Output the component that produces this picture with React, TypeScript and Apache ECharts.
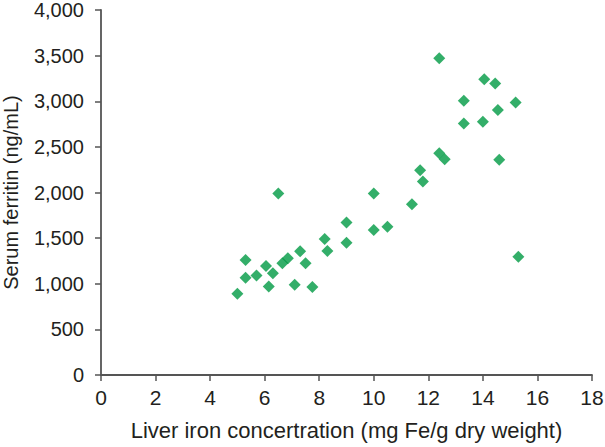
import React, { useEffect, useRef } from "react";
import * as echarts from "echarts";

const xValues = [5.0, 5.3, 5.3, 5.7, 6.05, 6.15, 6.3, 6.5, 6.65, 6.85, 7.1, 7.3, 7.5, 7.75, 8.2, 8.3, 9.0, 9.0, 10.0, 10.0, 10.5, 11.4, 11.7, 11.8, 12.4, 12.4, 12.6, 13.3, 13.3, 14.0, 14.05, 14.45, 14.55, 14.6, 15.2, 15.3];
const yValues = [890, 1260, 1065, 1090, 1195, 970, 1115, 1990, 1225, 1280, 990, 1355, 1225, 965, 1490, 1360, 1670, 1450, 1990, 1590, 1625, 1870, 2245, 2120, 3470, 2430, 2365, 3005, 2755, 2775, 3240, 3195, 2905, 2360, 2985, 1295];
const xTicks = [0, 2, 4, 6, 8, 10, 12, 14, 16, 18];
const yTicks = [0, 500, 1000, 1500, 2000, 2500, 3000, 3500, 4000];

const FONT = "'Liberation Sans', Arial, sans-serif";
const TEXT = "#231f20";
const AXIS = "#555555";

export default function App() {
  const ref = useRef<HTMLDivElement>(null);
  useEffect(() => {
    document.body.style.margin = "0";
    if (!ref.current) return;
    const chart = echarts.init(ref.current, undefined, { renderer: "svg" });
    const data = xValues.map((x, i) => [x, yValues[i]]);
    chart.setOption({
      animation: false,
      backgroundColor: "#ffffff",
      grid: {
        left: 101,
        top: 10,
        right: 13,
        bottom: 72,
        containLabel: false,
        outerBoundsMode: "none",
      },
      xAxis: {
        type: "value",
        min: xTicks[0],
        max: xTicks[xTicks.length - 1],
        interval: 2,
        name: "Liver iron concertration (mg Fe/g dry weight)",
        nameLocation: "middle",
        nameGap: 44,
        nameTextStyle: { fontFamily: FONT, fontSize: 22, color: TEXT },
        axisLine: { show: true, lineStyle: { color: AXIS, width: 1.8 } },
        axisTick: { show: true, inside: false, length: 6, lineStyle: { color: AXIS, width: 1.5 } },
        axisLabel: { fontFamily: FONT, fontSize: 21, color: TEXT, margin: 12 },
        splitLine: { show: false },
      },
      yAxis: {
        type: "value",
        min: yTicks[0],
        max: yTicks[yTicks.length - 1],
        interval: 500,
        name: "Serum ferritin (ng/mL)",
        nameLocation: "middle",
        nameGap: 80,
        nameTextStyle: { fontFamily: FONT, fontSize: 20, color: TEXT },
        axisLine: { show: true, lineStyle: { color: AXIS, width: 1.8 } },
        axisTick: { show: true, inside: false, length: 6, lineStyle: { color: AXIS, width: 1.5 } },
        axisLabel: {
          fontFamily: FONT,
          fontSize: 20,
          color: TEXT,
          margin: 17,
          formatter: (v: number) => v.toLocaleString("en-US"),
        },
        splitLine: { show: false },
      },
      series: [
        {
          type: "scatter",
          symbol: "diamond",
          symbolSize: 12,
          itemStyle: { color: "#009a44" },
          data,
        },
      ],
    });
    return () => chart.dispose();
  }, []);
  return (
    <div style={{ position: "fixed", left: 0, top: 0, width: 605, height: 447 }}>
      <div ref={ref} style={{ width: 605, height: 447 }} />
    </div>
  );
}
